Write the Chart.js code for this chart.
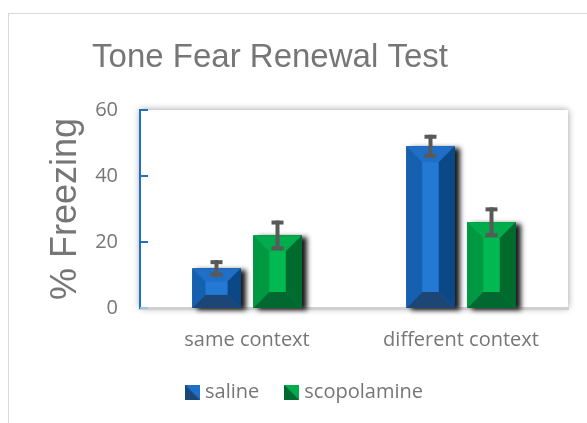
<!DOCTYPE html>
<html lang="en">
<head>
<meta charset="UTF-8">
<title>Tone Fear Renewal Test</title>
<style>
    html, body { margin: 0; padding: 0; overflow: hidden; background: #fff; }
    #frame { position: absolute; left: 8px; top: 13px; width: 640px; height: 480px; border: 1px solid #d9d9d9; }
    #wrap { position: absolute; left: 0; top: 0; width: 587px; height: 423px; }
</style>
</head>
<body>

<div id="frame"></div>
<div id="wrap"><canvas id="chart" width="587" height="423"></canvas></div>

<script src="https://cdn.jsdelivr.net/npm/chart.js"></script>
<script>
    // data
    const categories = ['same context', 'different context'];
    const seriesNames = ['saline', 'scopolamine'];
    const salineValues = [12, 49];
    const salineErr = [2.5, 3.5];
    const scopValues = [22, 26];
    const scopErr = [4.5, 4.5];
    const yTicks = [0, 20, 40, 60];

    const grey = '#767676';

    // bevel colours: top, left, right, bottom, inner
    const blueBevel = { top: '#1f6fc8', left: '#1660b0', right: '#0b4888', bottom: '#1c4676', inner: '#2479d5' };
    const greenBevel = { top: '#00ac4c', left: '#009840', right: '#006b2c', bottom: '#006830', inner: '#00b950' };
    const bevels = [blueBevel, greenBevel];
    const errors = [salineErr, scopErr];

    // little split squares for the legend
    function legendIcon(b) {
        const c = document.createElement('canvas');
        c.width = 15; c.height = 15;
        const g = c.getContext('2d');
        g.fillStyle = b.top;
        g.fillRect(0, 0, 15, 15);
        g.fillStyle = b.bottom;
        g.beginPath(); g.moveTo(0, 0); g.lineTo(15, 15); g.lineTo(0, 15); g.closePath(); g.fill();
        return c;
    }

    function poly(ctx, pts, color) {
        ctx.fillStyle = color;
        ctx.beginPath();
        ctx.moveTo(pts[0][0], pts[0][1]);
        for (let i = 1; i < pts.length; i++) ctx.lineTo(pts[i][0], pts[i][1]);
        ctx.closePath();
        ctx.fill();
    }

    const decoPlugin = {
        id: 'deco',
        beforeDraw(chart) {
            const { ctx, chartArea: a } = chart;
            // plot panel with soft shadow
            ctx.save();
            ctx.shadowColor = 'rgba(0,0,0,0.4)';
            ctx.shadowBlur = 7;
            ctx.fillStyle = '#fff';
            ctx.fillRect(a.left, a.top, a.right - a.left, a.bottom - a.top);
            ctx.restore();
            // chart title
            ctx.save();
            ctx.font = '33px "Liberation Sans", Arial, sans-serif';
            ctx.fillStyle = grey;
            ctx.textAlign = 'center';
            ctx.textBaseline = 'middle';
            ctx.fillText('Tone Fear Renewal Test', 270, 58);
            ctx.restore();
        },
        beforeDatasetsDraw(chart) {
            const ctx = chart.ctx;
            ctx.save();
            ctx.shadowColor = 'rgba(0,0,0,0.9)';
            ctx.shadowBlur = 5;
            ctx.shadowOffsetX = 5;
            ctx.shadowOffsetY = 2;
            chart.data.datasets.forEach((ds, i) => {
                chart.getDatasetMeta(i).data.forEach(bar => {
                    const p = bar.getProps(['x', 'y', 'base', 'width'], true);
                    ctx.fillStyle = '#000';
                    ctx.fillRect(p.x - p.width / 2, p.y, p.width, p.base - p.y);
                });
            });
            ctx.restore();
        },
        afterDatasetsDraw(chart) {
            const ctx = chart.ctx;
            const y = chart.scales.y;
            ctx.save();
            chart.data.datasets.forEach((ds, i) => {
                const b = bevels[i];
                chart.getDatasetMeta(i).data.forEach((bar, j) => {
                    const p = bar.getProps(['x', 'y', 'base', 'width'], true);
                    const L = p.x - p.width / 2, R = p.x + p.width / 2, T = p.y, B = p.base;
                    const s = Math.min(16, p.width / 3, (B - T) / 3);
                    poly(ctx, [[L, T], [R, T], [R - s, T + s], [L + s, T + s]], b.top);
                    poly(ctx, [[L, T], [L + s, T + s], [L + s, B - s], [L, B]], b.left);
                    poly(ctx, [[R, T], [R, B], [R - s, B - s], [R - s, T + s]], b.right);
                    poly(ctx, [[L, B], [R, B], [R - s, B - s], [L + s, B - s]], b.bottom);
                    ctx.fillStyle = b.inner;
                    ctx.fillRect(L + s, T + s, R - L - 2 * s, B - T - 2 * s);

                    // error bar
                    const v = ds.data[j], e = errors[i][j];
                    const hi = y.getPixelForValue(v + e), lo = y.getPixelForValue(v - e);
                    ctx.fillStyle = '#595959';
                    ctx.fillRect(p.x - 2, hi, 4, lo - hi);
                    ctx.fillRect(p.x - 6, hi, 12, 4);
                    ctx.fillRect(p.x - 6, lo - 4, 12, 4);
                });
            });
            // inward tick marks on the value axis
            yTicks.forEach(t => {
                const py = Math.round(y.getPixelForValue(t));
                ctx.fillStyle = t === 0 ? '#9dc3ea' : '#1f6fc5';
                ctx.fillRect(y.right, py - 1, 8, 2);
            });
            ctx.restore();
        }
    };

    const ctx = document.getElementById('chart').getContext('2d');
    new Chart(ctx, {
        type: 'bar',
        data: {
            labels: categories,
            datasets: [{
                label: seriesNames[0],
                data: salineValues,
                backgroundColor: blueBevel.top,
                categoryPercentage: 0.57,
                barPercentage: 0.79
            }, {
                label: seriesNames[1],
                data: scopValues,
                backgroundColor: greenBevel.top,
                categoryPercentage: 0.57,
                barPercentage: 0.79
            }]
        },
        options: {
            responsive: false,
            animation: false,
            events: [],
            layout: { padding: { top: 110, left: 44, right: 19, bottom: 11 } },
            plugins: {
                title: { display: false },
                tooltip: { enabled: false },
                legend: {
                    position: 'bottom',
                    labels: {
                        usePointStyle: true,
                        boxWidth: 6,
                        padding: 29,
                        color: grey,
                        font: { family: '"Open Sans", sans-serif', size: 20 },
                        generateLabels: chart => chart.data.datasets.map((ds, i) => ({
                            text: ds.label,
                            pointStyle: legendIcon(bevels[i]),
                            fillStyle: ds.backgroundColor,
                            strokeStyle: 'transparent',
                            lineWidth: 0,
                            fontColor: grey,
                            datasetIndex: i
                        }))
                    }
                }
            },
            scales: {
                x: {
                    grid: { display: false },
                    border: { color: '#d0d0d0', width: 3 },
                    ticks: {
                        color: grey,
                        padding: 12,
                        font: { family: '"Open Sans", sans-serif', size: 20 }
                    },
                    afterFit: s => { s.height = 45; }
                },
                y: {
                    min: 0,
                    max: 60,
                    grid: { display: false },
                    border: { color: '#1f6fc5', width: 2 },
                    afterBuildTicks: s => { s.ticks = yTicks.map(v => ({ value: v })); },
                    ticks: {
                        color: grey,
                        padding: 14,
                        font: { family: '"Open Sans", sans-serif', size: 20 }
                    },
                    title: {
                        display: true,
                        text: '% Freezing',
                        color: grey,
                        padding: 0,
                        font: { family: '"Liberation Sans", Arial, sans-serif', size: 36 }
                    },
                    afterFit: s => { s.width = 96; }
                }
            }
        },
        plugins: [decoPlugin]
    });
</script>

</body>
</html>
